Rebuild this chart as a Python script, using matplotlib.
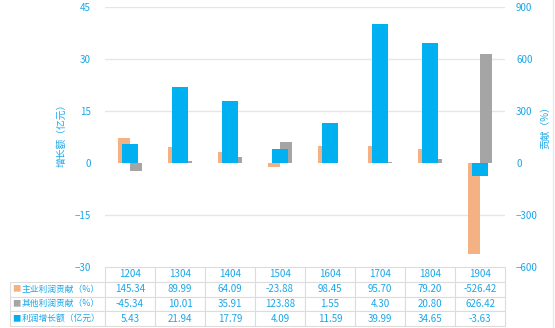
import matplotlib
matplotlib.use("Agg")
import matplotlib.pyplot as plt
import numpy as np

plt.rcParams['font.family'] = ['Noto Sans CJK SC', 'DejaVu Sans']

categories = ['1204', '1304', '1404', '1504', '1604', '1704', '1804', '1904']
main_contrib = [145.34, 89.99, 64.09, -23.88, 98.45, 95.70, 79.20, -526.42]
other_contrib = [-45.34, 10.01, 35.91, 123.88, 1.55, 4.30, 20.80, 626.42]
profit_growth = [5.43, 21.94, 17.79, 4.09, 11.59, 39.99, 34.65, -3.63]
series_labels = ['主业利润贡献（%）', '其他利润贡献（%）', '利润增长额（亿元）']
left_ticks = [-30, -15, 0, 15, 30, 45]
right_ticks = [-600, -300, 0, 300, 600, 900]

C_ORANGE = '#F4B183'
C_GRAY = '#A5A5A5'
C_BLUE = '#00B0F0'
C_TEXT = '#1AA7E8'
C_GRID = '#E6E6E6'
C_EDGE = '#DCDCDC'

W, H = 555, 328
fig = plt.figure(figsize=(W / 100, H / 100), dpi=100)
L, R, T, B = 105, 505, 7, 267
ax = fig.add_axes([L / W, 1 - B / H, (R - L) / W, (B - T) / H])
ax2 = ax.twinx()
ax.set_zorder(ax2.get_zorder() + 1)
ax.patch.set_visible(False)

x = np.arange(len(categories))
ax2.bar(x - 0.12, main_contrib, width=0.24, color=C_ORANGE, zorder=2)
ax2.bar(x + 0.12, other_contrib, width=0.24, color=C_GRAY, zorder=2)
ax.bar(x, profit_growth, width=0.32, color=C_BLUE, zorder=3)

ax.set_xlim(-0.5, len(categories) - 0.5)
ax.set_ylim(-30, 45)
ax2.set_ylim(-600, 900)
ax.set_yticks(left_ticks)
ax2.set_yticks(right_ticks)
ax.set_xticks([])

for t in left_ticks:
    if t not in (0, -30):
        ax2.axhline(t * 20, color=C_GRID, lw=1, zorder=0)

for a in (ax, ax2):
    for s in a.spines.values():
        s.set_visible(False)
    a.tick_params(axis='y', length=0, labelsize=7, labelcolor=C_TEXT)
ax.tick_params(axis='y', pad=10)
ax2.tick_params(axis='y', pad=8)

ax.set_ylabel('增长额（亿元）', color=C_TEXT, fontsize=7)
ax.yaxis.set_label_coords((66 - L) / (R - L), (B - 133) / (B - T))
ax2.set_ylabel('贡献（%）', color=C_TEXT, fontsize=7)
ax2.yaxis.set_label_coords((540 - L) / (R - L), (B - 125) / (B - T))

rows = []
for lab, vals in zip(series_labels, [main_contrib, other_contrib, profit_growth]):
    rows.append([lab] + ['%.2f' % v for v in vals])

tx0 = 10
ty1 = 326
table = ax.table(cellText=rows, colLabels=[''] + categories,
                 colWidths=[95 / 495] + [50 / 495] * len(categories),
                 cellLoc='center',
                 bbox=[(tx0 - L) / (R - L), -(ty1 - B) / (B - T),
                       (R - tx0) / (R - L), (ty1 - B) / (B - T)])
table.auto_set_font_size(False)
for (r, c), cell in table.get_celld().items():
    cell.set_edgecolor(C_EDGE)
    cell.set_linewidth(0.8)
    cell.get_text().set_color(C_TEXT)
    cell.get_text().set_fontsize(7)
    if r == 0 and c == 0:
        cell.visible_edges = 'open'
    if c == 0 and r > 0:
        cell._loc = 'left'
        cell.get_text().set_horizontalalignment('left')
        cell.PAD = 0.125
        cell.get_text().set_fontsize(6.3)

row_h = (ty1 - B) / 4
for i, col in enumerate([C_ORANGE, C_GRAY, C_BLUE]):
    yc = B + row_h * (i + 1.5)
    fig.text(16 / W, 1 - yc / H, '■', color=col, fontsize=6,
             ha='center', va='center')

fig.add_artist(plt.Line2D([553 / W, 553 / W], [0, 1], color='#E8E8E8', lw=1))

fig.savefig('out.png', dpi=100)
